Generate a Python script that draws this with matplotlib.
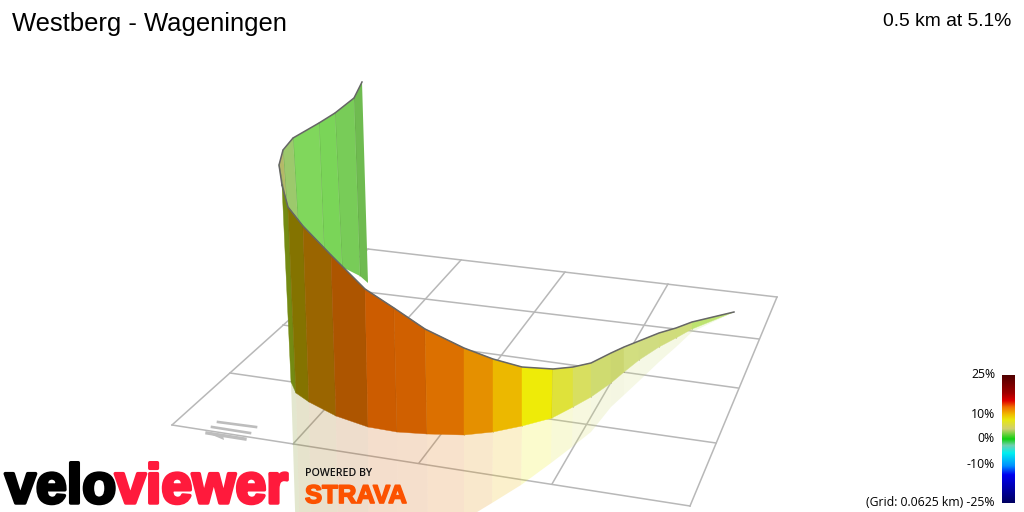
import matplotlib
matplotlib.use('Agg')
import matplotlib.pyplot as plt
import matplotlib.patheffects as pe
from matplotlib.colors import LinearSegmentedColormap
import numpy as np

# Screen positions (the source is a 3D render)
# Near wall, from the bend on the left to the far end on the right
near_top_x = [282, 288, 303, 331, 365, 394, 425, 464, 493, 522, 553, 573, 591, 611, 624, 639, 659, 676, 692, 734]
near_top_y = [185, 207, 226, 255, 289, 308, 329, 348, 359, 367, 369, 367, 363, 353, 347, 341, 333, 328, 322, 312]
near_bot_x = [291, 296, 309, 336, 368, 397, 427, 464, 493, 522, 552, 573, 591, 611, 624, 639, 659, 676, 692, 734]
near_bot_y = [382, 393, 402, 416, 427, 432, 434, 435, 432, 426, 418, 407, 397, 383, 372, 360, 347, 338, 329, 312]
near_colors = ['#748a12', '#847300', '#9a6500', '#ad5500', '#cc5c00', '#d06000', '#dc7000', '#e59000',
               '#ecb800', '#eeeb08', '#dfe23a', '#d8df60', '#cfdb70', '#cbd670', '#d2de80', '#d0dc80',
               '#d0dc7c', '#cfdd7a', '#bde36f']

# Shadow on the ground, the first points run off the bottom of the picture
shadow_x = [296, 300, 311, 338, 369, 398, 428, 464, 492, 521, 551, 572, 591, 611, 624, 639, 659, 676, 692, 734]
shadow_y = [540, 545, 550, 555, 555, 550, 545, 520, 503, 485, 463, 447, 432, 407, 395, 381, 362, 347, 332, 312]

# Back wall, from the far end round to the bend
back_top_x = [362, 354, 335, 319, 293, 283, 279, 282]
back_top_y = [82, 98, 113, 123, 138, 150, 165, 185]
back_bot_x = [368, 360, 342, 324, 298, 287, 287, 287]
back_bot_y = [283, 276, 267, 252, 225, 210, 207, 207]
back_colors = ['#6fbb50', '#78cc58', '#7ad558', '#80d75c', '#9cc96c', '#b4b868', '#a8a858']

# Ground grid, far and near end of every line
grid_x0 = [368, 325, 283, 230, 172, 368, 461, 565, 668, 777]
grid_y0 = [249, 287, 325, 373, 425, 249, 260, 272, 284, 297]
grid_x1 = [777, 759, 738, 716, 690, 172, 293, 419, 552, 690]
grid_y1 = [297, 339, 388, 443, 506, 425, 444, 463, 484, 506]

# Colour scale, top to bottom
scale_pos = [0, 0.14, 0.2, 0.25, 0.31, 0.35, 0.42, 0.5, 0.55, 0.61, 0.71, 0.78, 1]
scale_colors = ['#500000', '#a00000', '#e00000', '#f07000', '#f0c000', '#e8e810', '#d0d070', '#10d010',
                '#70d0b0', '#00f0f0', '#0090ff', '#0000f0', '#000060']
scale_labels = ['25%', '10%', '0%', '-10%', '(Grid: 0.0625 km) -25%']
scale_label_y = [375, 414, 439, 465, 503]

fig = plt.figure(figsize=(10.24, 5.12), dpi=100)
ax = fig.add_axes([0, 0, 1, 1])
ax.set_xlim(0, 1024)
ax.set_ylim(512, 0)
ax.axis('off')

for i in range(len(grid_x0)):
    ax.plot([grid_x0[i], grid_x1[i]], [grid_y0[i], grid_y1[i]], color='#b8b8b8', lw=1.1, zorder=1)

# compass
ax.plot([218, 256], [422, 427], color='#bdbdbd', lw=1.9, zorder=1)
ax.plot([212, 250], [427, 433], color='#bdbdbd', lw=1.9, zorder=1)
ax.plot([207, 245], [433, 439], color='#bdbdbd', lw=2.4, zorder=1)
ax.fill([205, 223, 224], [432, 435, 440], color='#bdbdbd', lw=0, zorder=1)

# shadow first, then the walls on top
for i in range(len(near_colors)):
    xs = [near_bot_x[i], near_bot_x[i + 1], shadow_x[i + 1], shadow_x[i]]
    ys = [near_bot_y[i], near_bot_y[i + 1], shadow_y[i + 1], shadow_y[i]]
    ax.fill(xs, ys, color=near_colors[i], alpha=0.2, lw=0, zorder=2)

for i in range(len(back_colors)):
    xs = [back_top_x[i], back_top_x[i + 1], back_bot_x[i + 1], back_bot_x[i]]
    ys = [back_top_y[i], back_top_y[i + 1], back_bot_y[i + 1], back_bot_y[i]]
    ax.fill(xs, ys, color=back_colors[i], lw=0, zorder=3)
    ax.plot(xs[1:3], ys[1:3], color='#5f9f45', lw=0.8, alpha=0.6, zorder=3)
ax.plot(back_top_x, back_top_y, color='#666666', lw=1.1, zorder=5)

for i in range(len(near_colors)):
    xs = [near_top_x[i], near_top_x[i + 1], near_bot_x[i + 1], near_bot_x[i]]
    ys = [near_top_y[i], near_top_y[i + 1], near_bot_y[i + 1], near_bot_y[i]]
    ax.fill(xs, ys, color=near_colors[i], lw=0.3, zorder=4)
    ax.plot(xs[1:3], ys[1:3], color='#705020', lw=0.7, alpha=0.25, zorder=4)
ax.plot(near_top_x, near_top_y, color='#666666', lw=1.1, zorder=5)

ax.text(12, 24, 'Westberg - Wageningen', fontsize=18.45, family='Liberation Sans', va='center', ha='left')
ax.text(1011, 21, '0.5 km at 5.1%', fontsize=13.9, family='Liberation Sans', va='center', ha='right')

# colour scale
cmap = LinearSegmentedColormap.from_list('grade', list(zip(scale_pos, scale_colors)))
ax.imshow(np.linspace(0, 1, 256).reshape(-1, 1), cmap=cmap, extent=(1002, 1015, 503, 375), aspect='auto', zorder=6)
ax.set_xlim(0, 1024)
ax.set_ylim(512, 0)
for label, y in zip(scale_labels, scale_label_y):
    ax.text(995, y, label, fontsize=8.8, family='Open Sans', va='center', ha='right', zorder=7)

# logos
ax.text(5, 503, 'velo', fontsize=40, family='Liberation Sans', weight='bold', color='k',
        va='baseline', path_effects=[pe.withStroke(linewidth=2.5, foreground='k')], zorder=8)
ax.text(115, 503, 'viewer', fontsize=40, family='Liberation Sans', weight='bold',
        color='#ff1a3c', va='baseline', path_effects=[pe.withStroke(linewidth=2.5, foreground='#ff1a3c')], zorder=8)
ax.text(305, 474, 'POWERED BY', fontsize=7.7, family='Open Sans', weight='semibold', color='#111111', va='center', zorder=8)
ax.text(305, 503, 'STRAVA', fontsize=18.5, family='Liberation Sans', weight='bold', color='#fc5200', va='baseline',
        path_effects=[pe.withStroke(linewidth=1.2, foreground='#fc5200')], zorder=8)

fig.savefig('out.png', dpi=100)
